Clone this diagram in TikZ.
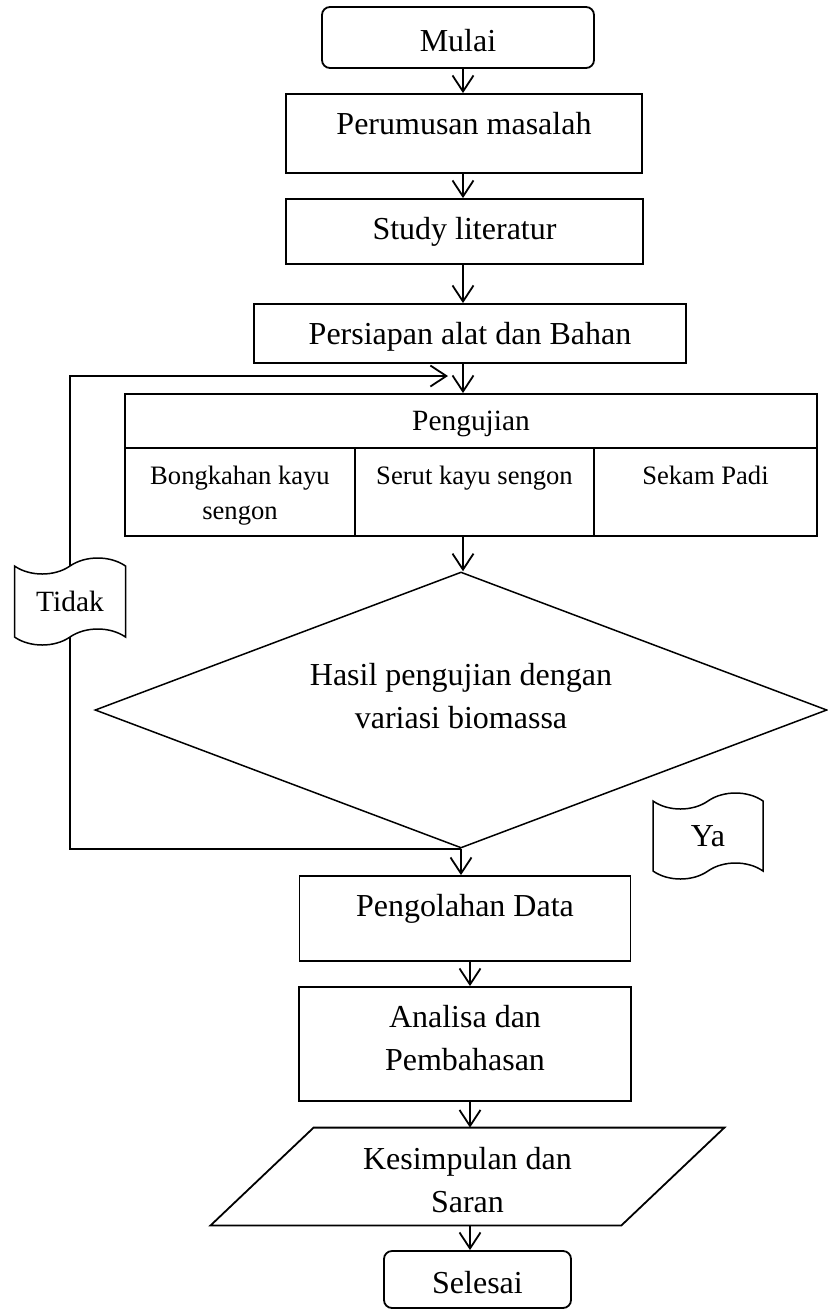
\documentclass[tikz,border=0pt]{standalone}
\usepackage{fontspec}
\setmainfont{Liberation Serif}
\usetikzlibrary{shapes.geometric, shapes.symbols, arrows.meta, backgrounds}

\def\ioslant{25.75pt}
\tikzset{
    % Common
    arrowFlow/.style={-{Straight Barb[length=8pt,width=10.5pt]}, line width=0.9pt},
    mainText/.style={font=\fontsize{16}{21.5}\selectfont, align=center},
    % Boxes
    stepBox/.style={rectangle, draw, line width=0.9pt, inner sep=0pt, fill=white},
    roundBox/.style={stepBox, rounded corners=4pt},
    topText/.style={anchor=north, inner xsep=0pt, inner ysep=9.5pt, mainText},
    % Pengujian table
    cellBox/.style={stepBox, minimum height=44pt},
    headText/.style={anchor=north, inner xsep=0pt, inner ysep=9pt, font=\fontsize{14.7}{18}\selectfont},
    cellText/.style={anchor=north, inner xsep=0pt, inner ysep=9.5pt, align=center, font=\fontsize{13.3}{17.5}\selectfont},
    % Decision and notes
    decision/.style={diamond, draw, line width=0.75pt, inner sep=0pt, minimum width=366pt, minimum height=138pt},
    tapeNote/.style={tape, draw, line width=0.75pt, fill=white, inner sep=0pt, tape bend height=8pt},
    ioBox/.style={rectangle, inner sep=0pt, minimum width=205pt, minimum height=48.5pt}
}

\begin{document}
\begin{tikzpicture}[x=0.5pt, y=-0.5pt]
    \useasboundingbox (0,0) rectangle (828,1313);
    \coordinate (spine) at (463,0);
    \coordinate (spineLow) at (470,0);

    % Main column
    \node[roundBox, minimum width=136pt, minimum height=30.5pt,
        label={[topText, inner ysep=11.5pt]north:Mulai}] (mulai) at (458,37.5) {};
    \node[stepBox, minimum width=178pt, minimum height=39.5pt,
        label={[topText]north:Perumusan masalah}] (rumus) at (464,133.5) {};
    \node[stepBox, minimum width=178.5pt, minimum height=32.5pt,
        label={[topText]north:Study literatur}] (study) at (464.5,231.5) {};
    \node[stepBox, minimum width=216pt, minimum height=29.5pt,
        label={[topText]north:Persiapan alat dan Bahan}] (siap) at (470,333.5) {};

    % Pengujian table
    \node[stepBox, minimum width=346pt, minimum height=27pt,
        label={[headText]north:Pengujian}] (ujiHead) at (471,421) {};
    \node[cellBox, minimum width=115pt,
        label={[cellText]north:Bongkahan kayu\\sengon}] (ujiA) at (240,492) {};
    \node[cellBox, minimum width=119.5pt,
        label={[cellText]north:Serut kayu sengon}] (ujiB) at (474.5,492) {};
    \node[cellBox, minimum width=111.5pt,
        label={[cellText]north:Sekam Padi}] (ujiC) at (705.5,492) {};

    % Decision
    \node[decision, label={[mainText, yshift=7pt]center:Hasil pengujian dengan\\variasi biomassa}] (hasil) at (461,710) {};
    \node[tapeNote, minimum width=55.5pt, minimum height=43.5pt,
        font=\fontsize{14.7}{18}\selectfont] (tidak) at (70,601.5) {Tidak};
    \node[tapeNote, minimum width=55pt, minimum height=43pt,
        font=\fontsize{16}{20}\selectfont] (ya) at (708,836) {Ya};

    % Lower column
    \node[stepBox, minimum width=165.5pt, minimum height=42.5pt,
        label={[topText]north:Pengolahan Data}] (olah) at (465,918.5) {};
    \node[stepBox, minimum width=166pt, minimum height=57pt,
        label={[topText]north:Analisa dan\\Pembahasan}] (analisa) at (465,1044) {};
    \node[ioBox, label={[topText]north:Kesimpulan dan\\Saran}] (simpul) at (467.5,1176.5) {};
    \draw[line width=0.9pt] ([xshift=-\ioslant]simpul.south west) -- ([xshift=\ioslant]simpul.north west)
        -- ([xshift=\ioslant]simpul.north east) -- ([xshift=-\ioslant]simpul.south east) -- cycle;
    \node[roundBox, minimum width=93.5pt, minimum height=28.5pt,
        label={[topText, inner ysep=10.5pt]north:Selesai}] (selesai) at (477.5,1279.5) {};

    % Arrows
    \draw[arrowFlow] (mulai.south -| spine) -- (rumus.north -| spine);
    \draw[arrowFlow] (rumus.south -| spine) -- (study.north -| spine);
    \draw[arrowFlow] (study.south -| spine) -- (siap.north -| spine);
    \draw[arrowFlow] (siap.south -| spine) -- (ujiHead.north -| spine);
    \draw[arrowFlow] (ujiB.south -| spine) -- (hasil.north -| spine);
    \draw[arrowFlow] (hasil.south) -- (hasil.south |- olah.north);
    \draw[arrowFlow] (olah.south -| spineLow) -- (analisa.north -| spineLow);
    \draw[arrowFlow] (analisa.south -| spineLow) -- (simpul.north -| spineLow);
    \draw[arrowFlow] (simpul.south -| spineLow) -- (selesai.north -| spineLow);

    % Loop back (Tidak)
    \coordinate (loopEnd) at (448,376);
    \begin{scope}[on background layer]
        \draw[arrowFlow] (hasil.south) -| (tidak.center) |- (loopEnd);
    \end{scope}
\end{tikzpicture}
\end{document}
